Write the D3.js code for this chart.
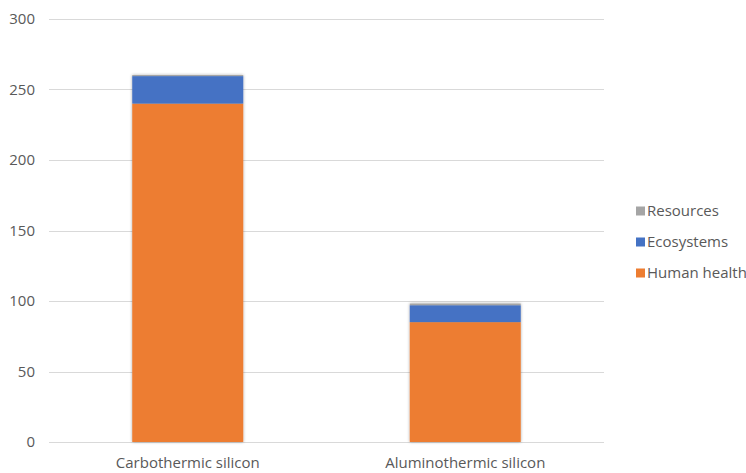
<!DOCTYPE html>
<html>
<head>
<meta charset="utf-8">
<script src="https://cdn.jsdelivr.net/npm/d3@7"></script>
<style>
  body { margin: 0; background: #fff; }
  svg { display: block; font-family: "Open Sans", "Noto Sans", sans-serif; }
</style>
</head>
<body>
<svg id="chart" width="746" height="473"></svg>
<script>
// Damage per process, stacked by impact category
const categories = ["Carbothermic silicon", "Aluminothermic silicon"];
const humanHealth = [240, 85];
const ecosystems = [19.5, 12];
const resources = [0.8, 1.2];
const yTicks = [0, 50, 100, 150, 200, 250, 300];

const seriesNames = ["Human health", "Ecosystems", "Resources"];
const seriesColors = { "Human health": "#ED7D31", "Ecosystems": "#4472C4", "Resources": "#A5A5A5" };

const rows = categories.map((c, i) => ({
  category: c,
  "Human health": humanHealth[i],
  "Ecosystems": ecosystems[i],
  "Resources": resources[i]
}));

const svg = d3.select("#chart");
const margin = { left: 49, right: 142, top: 19, bottom: 31 };
const width = 746, height = 473;
const fontSize = "15px";

const x = d3.scaleBand()
  .domain(categories)
  .range([margin.left, width - margin.right])
  .paddingInner(0.6)
  .paddingOuter(0.3);

const y = d3.scaleLinear()
  .domain([0, 300])
  .range([height - margin.bottom, margin.top]);

// soft shadow around the bars
const defs = svg.append("defs");
const f = defs.append("filter").attr("id", "shadow")
  .attr("x", "-10%").attr("y", "-10%").attr("width", "120%").attr("height", "120%");
f.append("feDropShadow").attr("dx", 0).attr("dy", 0).attr("stdDeviation", 1.5)
  .attr("flood-color", "#000").attr("flood-opacity", 0.35);

// gridlines
svg.append("g")
  .selectAll("line")
  .data(yTicks)
  .join("line")
  .attr("x1", margin.left)
  .attr("x2", width - margin.right)
  .attr("y1", d => Math.round(y(d)) + 0.5)
  .attr("y2", d => Math.round(y(d)) + 0.5)
  .attr("stroke", "#D9D9D9")
  .attr("stroke-width", 1);

// y axis labels
const yAxis = d3.axisLeft(y).tickValues(yTicks).tickSize(0).tickPadding(14);
svg.append("g")
  .attr("transform", `translate(${margin.left},0)`)
  .call(yAxis)
  .call(g => g.select(".domain").remove())
  .call(g => g.selectAll("text")
    .attr("fill", "#595959")
    .style("font-size", fontSize)
    .style("font-family", "'Open Sans', sans-serif"));

// stacked bars
const stacked = d3.stack().keys(seriesNames)(rows);

const barsG = svg.append("g").attr("filter", "url(#shadow)");
barsG.selectAll("g")
  .data(stacked)
  .join("g")
  .attr("fill", d => seriesColors[d.key])
  .selectAll("rect")
  .data(d => d)
  .join("rect")
  .attr("x", d => x(d.data.category))
  .attr("width", x.bandwidth())
  .attr("y", d => y(d[1]))
  .attr("height", d => y(d[0]) - y(d[1]));

// x axis labels
const xAxis = d3.axisBottom(x).tickSize(0).tickPadding(15);
svg.append("g")
  .attr("transform", `translate(0,${height - margin.bottom})`)
  .call(xAxis)
  .call(g => g.select(".domain").remove())
  .call(g => g.selectAll("text")
    .attr("fill", "#595959")
    .style("font-size", fontSize)
    .style("font-family", "'Open Sans', sans-serif"));

// legend
const legendItems = seriesNames.slice().reverse();
const legend = svg.append("g").attr("transform", "translate(636,211)");
const li = legend.selectAll("g")
  .data(legendItems)
  .join("g")
  .attr("transform", (d, i) => `translate(0,${i * 31})`);
li.append("rect")
  .attr("x", 0).attr("y", -4.5)
  .attr("width", 9).attr("height", 9)
  .attr("fill", d => seriesColors[d]);
li.append("text")
  .attr("x", 11).attr("y", 0)
  .attr("dy", "0.35em")
  .attr("fill", "#595959")
  .style("font-size", fontSize)
  .text(d => d);
</script>
</body>
</html>
